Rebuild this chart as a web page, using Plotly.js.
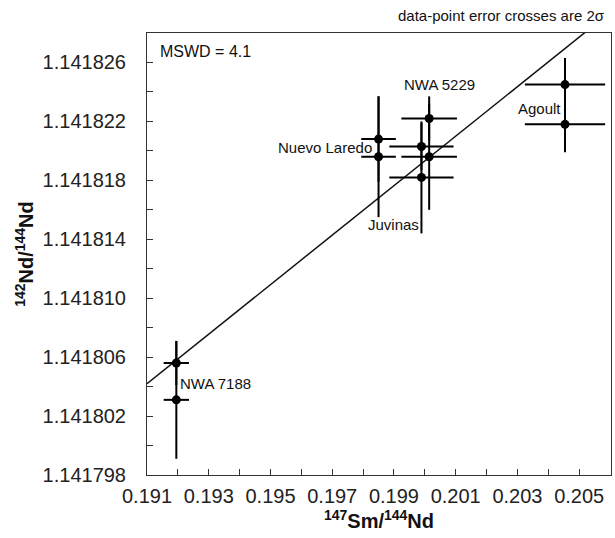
<!DOCTYPE html>
<html>
<head>
<meta charset="utf-8">
<script src="https://cdn.plot.ly/plotly-3.0.1.min.js"></script>
<style>
html,body{margin:0;padding:0;background:#fff;}
#chart{width:615px;height:538px;}
</style>
</head>
<body>
<div id="chart"></div>
<script>
// Sample data (147Sm/144Nd vs 142Nd/144Nd), 2-sigma error crosses
var sampleX = [0.19195, 0.19195, 0.19850, 0.19850, 0.19989, 0.20014, 0.19989, 0.20014, 0.20454, 0.20454];
var sampleY = [1.1418056, 1.1418031, 1.1418208, 1.1418196, 1.1418203, 1.1418222, 1.1418182, 1.1418196, 1.1418245, 1.1418218];
var errX = [0.00041, 0.00041, 0.00056, 0.00056, 0.00104, 0.00090, 0.00104, 0.00090, 0.00130, 0.00130];
var errY = [1.5e-6, 4.0e-6, 2.9e-6, 4.1e-6, 1.6e-6, 1.5e-6, 3.8e-6, 3.6e-6, 1.8e-6, 1.9e-6];

// Isochron fit line end points
var fitX = [0.1910, 0.2060];
var fitY = [1.1418042, 1.1418294];

// Sample labels
var labelText = ["NWA 5229", "Nuevo Laredo", "Juvinas", "Agoult", "NWA 7188"];
var labelX = [0.20047, 0.19678, 0.19897, 0.20370, 0.19322];
var labelY = [1.1418245, 1.1418202, 1.1418150, 1.1418229, 1.1418042];

// Tick labels
var xTickVals = [0.191, 0.193, 0.195, 0.197, 0.199, 0.201, 0.203, 0.205];
var xTickText = ["0.191", "0.193", "0.195", "0.197", "0.199", "0.201", "0.203", "0.205"];
var yTickVals = [1.141798, 1.141802, 1.141806, 1.141810, 1.141814, 1.141818, 1.141822, 1.141826];
var yTickText = ["1.141798", "1.141802", "1.141806", "1.141810", "1.141814", "1.141818", "1.141822", "1.141826"];

var FONT = "Liberation Sans, Arial, sans-serif";

var traces = [
  {
    x: fitX, y: fitY, mode: "lines", type: "scatter",
    line: {color: "#111", width: 1.5}, hoverinfo: "skip", showlegend: false
  },
  {
    x: sampleX, y: sampleY, mode: "markers", type: "scatter",
    marker: {color: "#000", size: 9},
    error_x: {type: "data", array: errX, visible: true, color: "#000", thickness: 2, width: 0},
    error_y: {type: "data", array: errY, visible: true, color: "#000", thickness: 2, width: 0},
    showlegend: false
  }
];

var annotations = [];
for (var i = 0; i < labelText.length; i++) {
  annotations.push({
    x: labelX[i], y: labelY[i], xref: "x", yref: "y", text: labelText[i],
    showarrow: false, xanchor: "center", yanchor: "middle",
    font: {family: FONT, size: 15, color: "#111"}
  });
}
annotations.push({
  x: 0.024, y: 0.959, xref: "paper", yref: "paper", text: "MSWD = 4.1",
  showarrow: false, xanchor: "left", yanchor: "middle",
  font: {family: FONT, size: 16, color: "#111"}
});
annotations.push({
  x: 0.992, y: 1.0407, xref: "paper", yref: "paper", text: "data-point error crosses are 2σ",
  showarrow: false, xanchor: "right", yanchor: "middle",
  font: {family: FONT, size: 15, color: "#111"}
});

var layout = {
  width: 615, height: 538,
  margin: {l: 147, r: 4, t: 33, b: 63, pad: 0},
  paper_bgcolor: "#fff", plot_bgcolor: "#fff",
  showlegend: false,
  xaxis: {
    range: [0.191, 0.20603],
    tickvals: xTickVals, ticktext: xTickText,
    ticks: "inside", ticklen: 6, tickcolor: "#333", tickwidth: 1,
    minor: {tickvals: [0.192, 0.194, 0.196, 0.198, 0.200, 0.202, 0.204], ticks: "inside", ticklen: 6, tickcolor: "#333"},
    showline: true, mirror: true, linecolor: "#333", linewidth: 1,
    showgrid: false, zeroline: false,
    tickfont: {family: FONT, size: 20, color: "#222"},
    ticklabelstandoff: 3,
    title: {text: "<b><sup>147</sup>Sm/<sup>144</sup>Nd</b>", font: {family: FONT, size: 20, color: "#111"}, standoff: 5}
  },
  yaxis: {
    range: [1.141798, 1.141828],
    tickvals: yTickVals, ticktext: yTickText,
    ticks: "inside", ticklen: 6, tickcolor: "#333", tickwidth: 1,
    minor: {tickvals: [1.141800, 1.141804, 1.141808, 1.141812, 1.141816, 1.141820, 1.141824], ticks: "inside", ticklen: 6, tickcolor: "#333"},
    showline: true, mirror: true, linecolor: "#333", linewidth: 1,
    showgrid: false, zeroline: false,
    tickfont: {family: FONT, size: 20, color: "#222"},
    ticklabelstandoff: 16,
    title: {text: "<b><sup>142</sup>Nd/<sup>144</sup>Nd</b>", font: {family: FONT, size: 20, color: "#111"}, standoff: 3}
  },
  annotations: annotations
};

Plotly.newPlot("chart", traces, layout, {displayModeBar: false, staticPlot: true});
</script>
</body>
</html>
